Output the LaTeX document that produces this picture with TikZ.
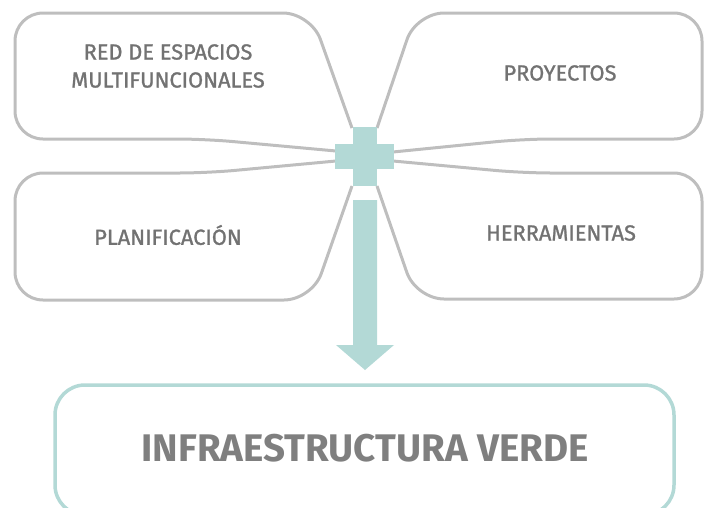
\documentclass[tikz,border=0pt]{standalone}
\usepackage{fontspec}
\setmainfont{Fira Sans}
\newfontfamily\medfont[FakeBold=1.2]{Fira Sans}
\definecolor{tealc}{HTML}{B3D9D6}
\definecolor{linec}{HTML}{BEBEBE}
\definecolor{textc}{HTML}{727272}
\definecolor{bigc}{HTML}{7F7F7F}
\tikzset{
  outline/.style={draw=linec, line width=3pt, rounded corners=28pt, line join=round},
  crossbar/.style={fill=tealc, draw=none, inner sep=0pt, outer sep=0pt},
  label/.style={text=textc, font=\medfont\fontsize{21.8}{28}\selectfont, align=center, inner sep=0pt},
  biglabel/.style={text=bigc, font=\fontsize{38.5}{40}\selectfont\bfseries, inner sep=0pt},
  finalbox/.style={draw=tealc, line width=3.5pt, rounded corners=30pt}
}
\begin{document}
\begin{tikzpicture}[x=1pt,y=-1pt]
\useasboundingbox (0,0) rectangle (705,507);
\clip (0,0) rectangle (705,507);
% outlines of the four boxes
\draw[outline] (352,128) -- (311,13) -- (15,13) -- (15,139) -- (205,139) -- (336,151);
\draw[outline] (377,128) -- (416,13) -- (702,13) -- (702,139) -- (523,139) -- (393,152);
\draw[outline] (336,161) -- (207,173) -- (15,173) -- (15,300) -- (312,300) -- (352,186);
\draw[outline] (393,161) -- (523,173) -- (702,173) -- (702,299) -- (416,299) -- (377,186);
% cross
\node[crossbar, minimum width=24.6pt, minimum height=58.7pt] (cv) at (365,156.4) {};
\node[crossbar, minimum width=59.3pt, minimum height=24.7pt] (ch) at (364.7,156.7) {};
% arrow
\fill[tealc] (353,200) -- (377,200) -- (377,345) -- (394,345) -- (365,370) -- (336,345) -- (353,345) -- cycle;
% final box
\draw[finalbox] (55,385) rectangle (674,515);
% texts
\node[label] (red) at (168,66) {RED DE ESPACIOS\\MULTIFUNCIONALES};
\node[label] (proy) at (560,73) {PROYECTOS};
\node[label] (plan) at (168,235) {PLANIFICACIÓN};
\node[label] (herr) at (561,233) {HERRAMIENTAS};
\node[biglabel] (iv) at (365,448) {INFRAESTRUCTURA VERDE};
\end{tikzpicture}
\end{document}
